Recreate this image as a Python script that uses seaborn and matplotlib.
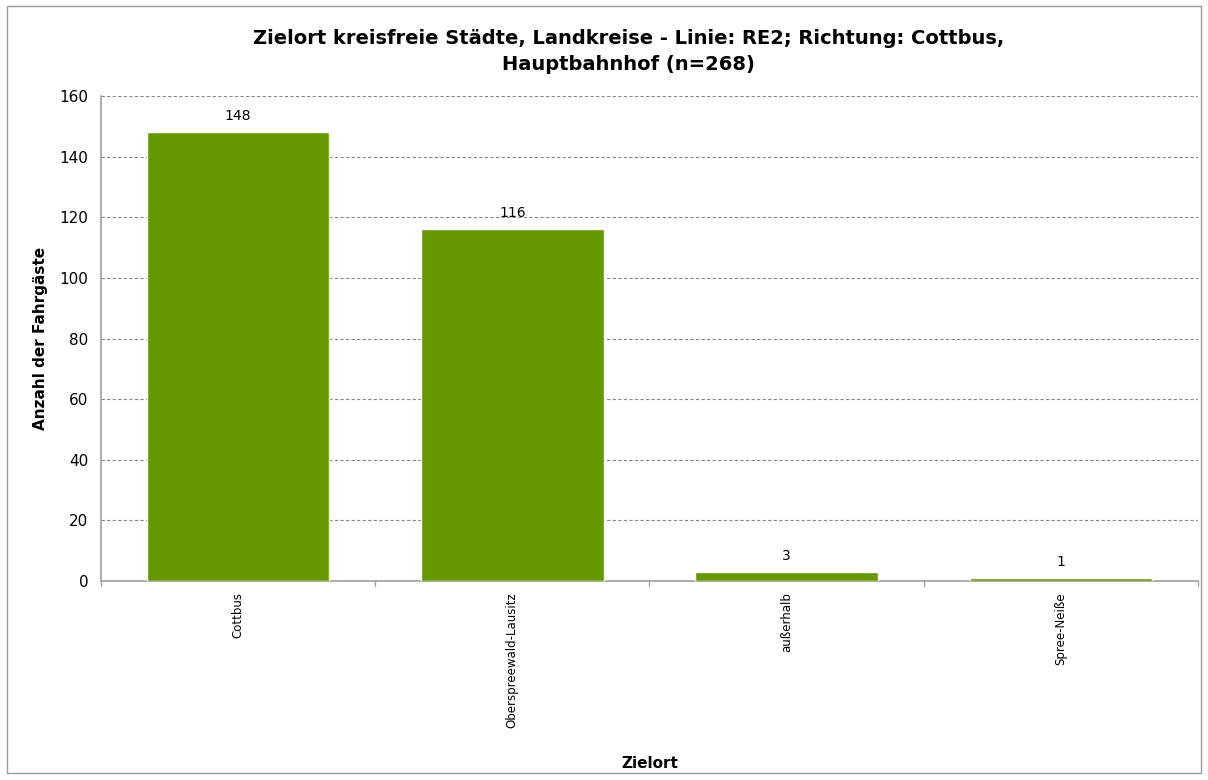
import matplotlib
matplotlib.use("Agg")
import matplotlib.pyplot as plt
import seaborn as sns
import pandas as pd
from matplotlib.patches import Rectangle

# Daten aus dem Diagramm
zielorte = ["Cottbus", "Oberspreewald-Lausitz", "außerhalb", "Spree-Neiße"]
anzahl = [148, 116, 3, 1]

df = pd.DataFrame({"Zielort": zielorte, "Anzahl": anzahl})

sns.set_style("white")
plt.rcParams["font.family"] = ["DejaVu Sans"]
plt.rcParams["text.color"] = "black"
plt.rcParams["axes.labelcolor"] = "black"
plt.rcParams["xtick.labelcolor"] = "black"
plt.rcParams["ytick.labelcolor"] = "black"

fig = plt.figure(figsize=(12.08, 7.8), dpi=100)
ax = fig.add_axes([0.0836, 0.2551, 0.9081, 0.6218])

sns.barplot(data=df, x="Zielort", y="Anzahl", color="#669900", width=0.665,
            saturation=1, ax=ax, zorder=3)

for p, v in zip(ax.patches, anzahl):
    ax.text(p.get_x() + p.get_width() / 2, v + 3, str(v), ha="center",
            va="bottom", fontsize=10, color="black")

ax.set_xlim(-0.5, len(zielorte) - 0.5)
ax.set_ylim(0, 160)
ax.set_yticks(range(0, 161, 20))
ax.tick_params(axis="y", labelsize=11, length=5, color="#a0a0a0", direction="out", pad=4)
ax.set_xticks(range(len(zielorte)))
ax.set_xticklabels(zielorte, rotation=90, fontsize=8.5)
ax.tick_params(axis="x", length=0, pad=8)
# Striche zwischen den Kategorien
for b in [x - 0.5 for x in range(len(zielorte) + 1)]:
    ax.plot([b, b], [0, -1.8], color="#a0a0a0", lw=1, clip_on=False, zorder=4)

ax.yaxis.grid(True, linestyle=(0, (3, 2)), color="#888888", lw=0.8, zorder=0)
for s in ["top", "right"]:
    ax.spines[s].set_visible(False)
for s in ["left", "bottom"]:
    ax.spines[s].set_color("#a0a0a0")
    ax.spines[s].set_linewidth(1.2)

ax.set_xlabel("Zielort", fontsize=11, fontweight="bold", labelpad=0)
ax.xaxis.set_label_coords(0.5, -0.36)
ax.set_ylabel("Anzahl der Fahrgäste", fontsize=11, fontweight="bold")
ax.yaxis.set_label_coords(-0.048, 0.5)

fig.text(0.52, 0.905, "Zielort kreisfreie Städte, Landkreise - Linie: RE2; Richtung: Cottbus,\nHauptbahnhof (n=268)",
         ha="center", va="bottom", fontsize=14, fontweight="bold", linespacing=1.45)

fig.patches.append(Rectangle((0.006, 0.009), 0.988, 0.983, transform=fig.transFigure,
                             fill=False, edgecolor="#9a9a9a", lw=1))

plt.savefig("out.png", dpi=100)
plt.close()
